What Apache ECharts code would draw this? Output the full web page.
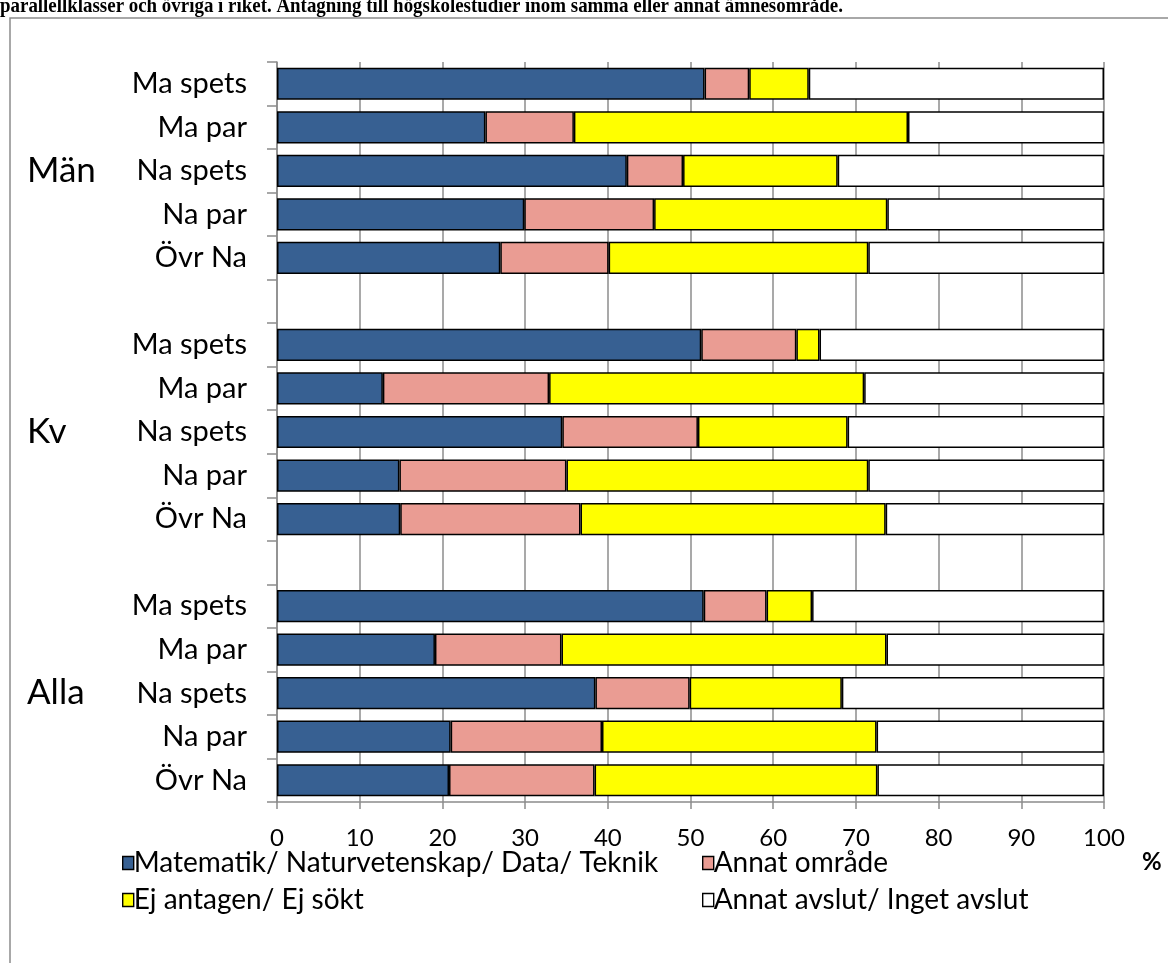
<!DOCTYPE html>
<html>
<head>
<meta charset="utf-8">
<script src="https://cdn.jsdelivr.net/npm/echarts@6/dist/echarts.min.js"></script>
<style>
  html, body { margin: 0; padding: 0; background: #fff; }
  #chart { width: 1168px; height: 963px; }
</style>
</head>
<body>
<div id="chart"></div>
<script>
// rows top to bottom, blank rows separate the groups
var rowLabels = ["Ma spets", "Ma par", "Na spets", "Na par", "Övr Na", "",
                 "Ma spets", "Ma par", "Na spets", "Na par", "Övr Na", "",
                 "Ma spets", "Ma par", "Na spets", "Na par", "Övr Na"];
var groupLabels = ["", "", "Män", "", "", "",
                   "", "", "Kv", "", "", "",
                   "", "", "Alla", "", ""];
var seriesNames = ["Matematik/ Naturvetenskap/ Data/ Teknik", "Annat område",
                   "Ej antagen/ Ej sökt", "Annat avslut/ Inget avslut"];
var matNatDataTeknik = [51.7, 25.2, 42.3, 29.9, 27.0, null, 51.3, 12.8, 34.5, 14.8, 14.9, null, 51.6, 19.1, 38.5, 21.0, 20.8];
var annatOmrade      = [5.4, 10.7, 6.8, 15.7, 13.1, null, 11.5, 20.1, 16.4, 20.2, 21.8, null, 7.6, 15.3, 11.4, 18.3, 17.6];
var ejAntagen        = [7.2, 40.4, 18.7, 28.2, 31.4, null, 2.8, 38.1, 18.1, 36.5, 36.9, null, 5.5, 39.3, 18.4, 33.2, 34.2];
var annatAvslut      = [35.7, 23.7, 32.2, 26.2, 28.5, null, 34.4, 29.0, 31.0, 28.5, 26.4, null, 35.3, 26.3, 31.7, 27.5, 27.4];
var colors = ["#376092", "#EA9C93", "#FFFF00", "#FFFFFF"];
var titleText = "parallellklasser och övriga i riket. Antagning till högskolestudier inom samma eller annat ämnesområde.";

var FONT = "Lato";
var myChart = echarts.init(document.getElementById("chart"));

function barSeries(i, data) {
  return {
    name: seriesNames[i],
    type: "bar",
    stack: "total",
    barWidth: "74%",
    data: data,
    itemStyle: { color: colors[i], borderColor: "#000", borderWidth: 1.5 }
  };
}

function legendBlock(names, left) {
  return {
    data: names,
    orient: "vertical", left: left, top: 849, padding: 0,
    itemGap: 9, itemWidth: 11, itemHeight: 13, icon: "rect",
    itemStyle: { borderWidth: 1.4 },
    textStyle: { fontFamily: FONT, fontSize: 28, color: "#000", padding: [0, 0, 0, -5] }
  };
}

var option = {
  animation: false,
  graphic: [
    {
      type: "rect", silent: true, z: -10,
      shape: { x: 10, y: 18, width: 1200, height: 1000 },
      style: { fill: "none", stroke: "#8c8c8c", lineWidth: 1.5 }
    },
    {
      type: "text", x: 0, y: -5, scaleX: 0.86,
      style: { text: titleText, font: "bold 22px 'Liberation Serif'", fill: "#000" }
    }
  ],
  grid: { left: 277, right: 64, top: 62, bottom: 161, containLabel: false },
  xAxis: {
    type: "value",
    min: 0, max: 100, interval: 10,
    name: "%",
    nameLocation: "end",
    nameGap: 38,
    nameTextStyle: { fontFamily: FONT, fontSize: 24, fontWeight: "bold", color: "#000",
                     verticalAlign: "top", padding: [48, 0, 0, 0] },
    axisLine: { show: true, lineStyle: { color: "#8c8c8c", width: 1.5 } },
    axisTick: { show: true, length: 7, lineStyle: { color: "#8c8c8c", width: 1.5 } },
    axisLabel: { fontFamily: FONT, fontSize: 24, color: "#000", margin: 24 },
    splitLine: { show: true, lineStyle: { color: "#8c8c8c", width: 1.5 } }
  },
  yAxis: [
    {
      type: "category",
      inverse: true,
      data: rowLabels,
      axisLine: { show: true, lineStyle: { color: "#8c8c8c", width: 1.5 } },
      axisTick: { show: true, length: 10, lineStyle: { color: "#8c8c8c", width: 1.5 } },
      axisLabel: { fontFamily: FONT, fontSize: 29, color: "#000", margin: 30, interval: 0 },
      splitLine: { show: false }
    },
    {
      type: "category",
      inverse: true,
      position: "left",
      data: groupLabels,
      axisLine: { show: false },
      axisTick: { show: false },
      axisLabel: { fontFamily: FONT, fontSize: 35, color: "#000", margin: 250, align: "left", interval: 0 },
      splitLine: { show: false }
    }
  ],
  legend: [
    legendBlock([seriesNames[0], seriesNames[2]], 122),
    legendBlock([seriesNames[1], seriesNames[3]], 702)
  ],
  series: [
    barSeries(0, matNatDataTeknik),
    barSeries(1, annatOmrade),
    barSeries(2, ejAntagen),
    barSeries(3, annatAvslut)
  ]
};

myChart.setOption(option);
</script>
</body>
</html>
